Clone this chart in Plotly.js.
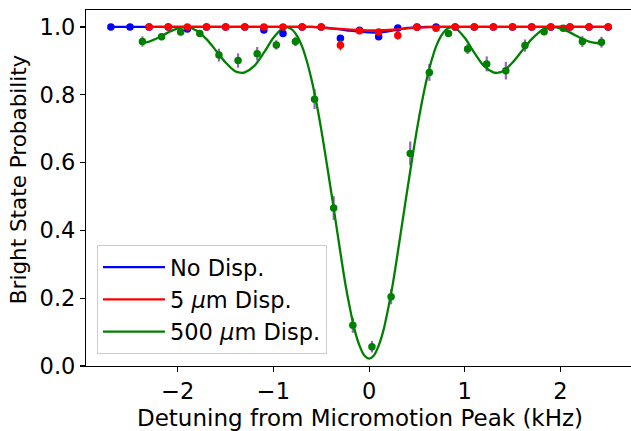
<!DOCTYPE html>
<html>
<head>
<meta charset="utf-8">
<script src="https://cdn.plot.ly/plotly-3.0.1.min.js"></script>
<style>html,body{margin:0;padding:0;overflow:hidden;background:#fff;}</style>
</head>
<body>
<div id="chart"></div>
<script>
// ---- data ----
const blueX = [-2.7,-2.5,-2.3,-2.1,-1.9,-1.7,-1.5,-1.3,-1.1,-0.9,-0.7,-0.5,-0.3,-0.1,0.1,0.3,0.5,0.7,0.9,1.1,1.3,1.5,1.7,1.9,2.1,2.3,2.5];
const blueY = [1.0,1.0,1.0,1.0,0.994,1.0,1.0,1.0,0.991,0.981,1.0,1.0,0.967,0.990,0.971,0.997,1.0,1.0,1.0,1.0,1.0,1.0,1.0,1.0,1.0,1.0,1.0];

const redX = [-2.3,-2.1,-1.9,-1.7,-1.5,-1.3,-1.1,-0.9,-0.7,-0.5,-0.3,-0.1,0.1,0.3,0.5,0.7,0.9,1.1,1.3,1.5,1.7,1.9,2.1,2.3,2.5];
const redY = [1.0,1.0,1.0,1.0,1.0,1.0,1.0,1.0,1.0,1.0,0.946,0.989,0.985,0.975,0.999,0.996,1.0,1.0,1.0,1.0,1.0,1.0,1.0,1.0,1.0];
const redErr = [0,0,0,0,0,0,0,0,0,0,0.015,0.005,0.006,0.012,0,0,0,0,0,0,0,0,0,0,0];

const greenX = [-2.37,-2.17,-1.97,-1.77,-1.57,-1.37,-1.17,-0.97,-0.77,-0.57,-0.37,-0.17,0.03,0.23,0.43,0.63,0.83,1.03,1.23,1.43,1.63,1.83,2.03,2.23,2.43];
const greenY = [0.957,0.971,0.985,0.981,0.917,0.901,0.921,0.947,0.957,0.787,0.466,0.120,0.057,0.204,0.627,0.866,0.981,0.935,0.891,0.871,0.945,0.986,0.996,0.957,0.955];
const greenErr = [0.015,0.010,0.010,0.010,0.019,0.021,0.020,0.014,0.014,0.029,0.035,0.022,0.017,0.022,0.035,0.025,0.010,0.015,0.022,0.026,0.018,0.010,0.008,0.016,0.016];

// fitted curves
const blueFitX = [-2.7,-2.0,-1.0,-0.6,-0.5,-0.4,-0.3,-0.2,-0.1,0.0,0.1,0.2,0.3,0.4,0.5,0.6,1.0,2.0,2.5];
const blueFitY = [1.0,1.0,1.0,1.0,0.999,0.996,0.993,0.989,0.986,0.984,0.984,0.987,0.992,0.997,0.999,1.0,1.0,1.0,1.0];

const redFitX = [-2.3,-1.5,-0.8,-0.6,-0.5,-0.4,-0.3,-0.2,-0.1,0.0,0.1,0.2,0.3,0.4,0.5,0.6,0.7,1.5,2.5];
const redFitY = [1.0,1.0,1.0,1.0,0.998,0.996,0.994,0.992,0.991,0.990,0.990,0.991,0.993,0.996,0.998,0.999,1.0,1.0,1.0];

const greenFitX = [-2.40,-2.30,-2.20,-2.10,-2.00,-1.90,-1.80,-1.70,-1.60,-1.50,-1.40,-1.35,-1.30,-1.20,-1.10,-1.00,-0.90,-0.85,-0.80,-0.75,-0.70,-0.65,-0.60,-0.55,-0.50,-0.45,-0.40,-0.35,-0.30,-0.25,-0.20,-0.15,-0.10,-0.05,0.00,
                   0.05,0.10,0.15,0.20,0.25,0.30,0.35,0.40,0.45,0.50,0.55,0.60,0.65,0.70,0.75,0.80,0.85,0.90,1.00,1.10,1.20,1.30,1.35,1.40,1.50,1.60,1.70,1.80,1.90,2.00,2.10,2.20,2.30,2.40,2.45];
const greenFitY = [0.952,0.957,0.969,0.984,0.996,0.999,0.989,0.964,0.930,0.895,0.869,0.865,0.866,0.885,0.924,0.968,0.997,0.999,0.991,0.972,0.942,0.898,0.843,0.775,0.697,0.610,0.520,0.428,0.335,0.245,0.170,0.105,0.060,0.031,0.022,
                   0.031,0.060,0.105,0.170,0.245,0.335,0.428,0.520,0.610,0.697,0.775,0.843,0.898,0.942,0.972,0.991,0.999,0.997,0.968,0.924,0.885,0.866,0.865,0.869,0.895,0.930,0.964,0.989,0.999,0.996,0.984,0.969,0.957,0.952,0.952];

const legendNames = ["No Disp.", "5 <i>μ</i>m Disp.", "500 <i>μ</i>m Disp."];
const xTicks = [-2,-1,0,1,2];
const yTicks = [0.0,0.2,0.4,0.6,0.8,1.0];
const xTitle = 'Detuning from Micromotion Peak (kHz)';
const yTitle = 'Bright State Probability';

// ---- traces ----
const traces = [
  {x: greenX, y: greenY, mode: 'markers', type: 'scatter', showlegend: false,
   marker: {color: 'green', size: 7.5},
   error_y: {type: 'data', array: greenErr, visible: true, color: '#9467bd', thickness: 2.2, width: 0}},
  {x: greenFitX, y: greenFitY, mode: 'lines', type: 'scatter', name: legendNames[2], legendrank: 3,
   line: {color: 'green', width: 2.3, shape: 'spline', smoothing: 0.8}},
  {x: blueX, y: blueY, mode: 'markers', type: 'scatter', showlegend: false,
   marker: {color: 'blue', size: 7.5}},
  {x: blueFitX, y: blueFitY, mode: 'lines', type: 'scatter', name: legendNames[0], legendrank: 1,
   line: {color: 'blue', width: 2.3, shape: 'spline', smoothing: 0.8}},
  {x: redX, y: redY, mode: 'markers', type: 'scatter', showlegend: false,
   marker: {color: 'red', size: 7.5},
   error_y: {type: 'data', array: redErr, visible: true, color: 'green', thickness: 1.5, width: 0}},
  {x: redFitX, y: redFitY, mode: 'lines', type: 'scatter', name: legendNames[1], legendrank: 2,
   line: {color: 'red', width: 2.3, shape: 'spline', smoothing: 0.8}}
];

const fontFam = 'DejaVu Sans, sans-serif';
const layout = {
  width: 640, height: 431,
  margin: {l: 86, r: 6, t: 10, b: 65},
  paper_bgcolor: '#fff', plot_bgcolor: '#fff',
  font: {family: fontFam, size: 22.5, color: '#000'},
  xaxis: {
    range: [-2.96, 2.77], tickvals: xTicks, ticktext: xTicks.map(v => v < 0 ? '\u2212' + Math.abs(v) : String(v)),
    ticks: 'outside', ticklen: 5, tickwidth: 1.1, tickcolor: '#000',
    showline: true, linecolor: '#000', linewidth: 1.1, mirror: true,
    showgrid: false, zeroline: false,
    tickfont: {size: 22.5},
    title: {text: xTitle, font: {size: 23}, standoff: 6}
  },
  yaxis: {
    range: [0, 1.05], tickvals: yTicks, ticktext: yTicks.map(v => v.toFixed(1)),
    ticks: 'outside', ticklen: 5, tickwidth: 1.1, tickcolor: '#000',
    showline: true, linecolor: '#000', linewidth: 1.1, mirror: true,
    showgrid: false, zeroline: false,
    tickfont: {size: 22.5}
  },
  annotations: [{
    text: yTitle, textangle: -90, showarrow: false,
    xref: 'paper', yref: 'paper', x: -0.124, y: 0.525,
    xanchor: 'center', yanchor: 'middle',
    font: {size: 21.5, family: fontFam, color: '#000'}
  }],
  legend: {
    x: 0.02, y: 0.34, xanchor: 'left', yanchor: 'top',
    bgcolor: 'rgba(255,255,255,0.8)', bordercolor: '#cccccc', borderwidth: 1,
    font: {size: 22.5}, itemwidth: 62, tracegroupgap: 0
  },
  showlegend: true
};

Plotly.newPlot('chart', traces, layout, {displayModeBar: false, staticPlot: true});
</script>
</body>
</html>
